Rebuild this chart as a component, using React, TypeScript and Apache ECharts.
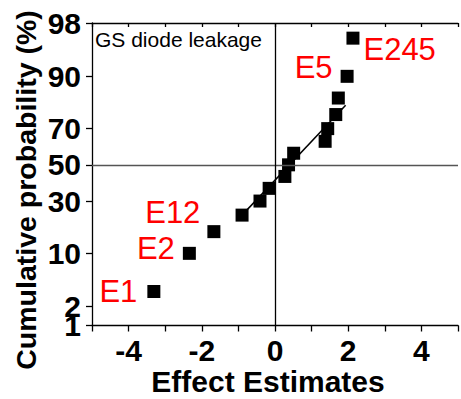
import React, { useEffect, useRef } from "react";
import * as echarts from "echarts";

// Effect estimates (x) and their cumulative probabilities (%)
const effectNames = ["E1", "E2", "E12", "", "", "", "", "", "", "", "", "", "", "E5", "E245"];
const effectValues = [-3.31, -2.34, -1.67, -0.9, -0.41, -0.16, 0.27, 0.37, 0.51, 1.37, 1.44, 1.66, 1.73, 1.97, 2.13];
const cumulativePct = [3.33, 10, 16.67, 23.33, 30, 36.67, 43.33, 50, 56.67, 63.33, 70, 76.67, 83.33, 90, 96.67];

// Fitted reference line end points
const fitX = [-0.9, 1.93];
const fitPct = [23.33, 80.6];

// Probability-axis tick labels (%)
const probTicks = [1, 2, 10, 30, 50, 70, 90, 98];
const xTicks = [-4, -2, 0, 2, 4];

const FONT = "'Liberation Sans', Arial, sans-serif";

// Label placement (style, not data)
const labelPlacement: Record<string, { position: string; offset: number[] }> = {
  E1: { position: "left", offset: [-2, 0] },
  E2: { position: "left", offset: [0, -5] },
  E12: { position: "left", offset: [1, -19] },
  E5: { position: "left", offset: [0, -9] },
  E245: { position: "right", offset: [-4, 11] },
};

function probit(p: number): number {
  const a = [-3.969683028665376e1, 2.209460984245205e2, -2.759285104469687e2, 1.38357751867269e2, -3.066479806614716e1, 2.506628277459239];
  const b = [-5.447609879822406e1, 1.615858368580409e2, -1.556989798598866e2, 6.680131188771972e1, -1.328068155288572e1];
  const c = [-7.784894002430293e-3, -3.223964580411365e-1, -2.400758277161838, -2.549732539343734, 4.374664141464968, 2.938163982698783];
  const d = [7.784695709041462e-3, 3.224671290700398e-1, 2.445134137142996, 3.754408661907416];
  const plow = 0.02425;
  const phigh = 1 - plow;
  if (p < plow) {
    const q = Math.sqrt(-2 * Math.log(p));
    return (((((c[0] * q + c[1]) * q + c[2]) * q + c[3]) * q + c[4]) * q + c[5]) / ((((d[0] * q + d[1]) * q + d[2]) * q + d[3]) * q + 1);
  }
  if (p <= phigh) {
    const q = p - 0.5;
    const r = q * q;
    return ((((((a[0] * r + a[1]) * r + a[2]) * r + a[3]) * r + a[4]) * r + a[5]) * q) / (((((b[0] * r + b[1]) * r + b[2]) * r + b[3]) * r + b[4]) * r + 1);
  }
  const q = Math.sqrt(-2 * Math.log(1 - p));
  return -(((((c[0] * q + c[1]) * q + c[2]) * q + c[3]) * q + c[4]) * q + c[5]) / ((((d[0] * q + d[1]) * q + d[2]) * q + d[3]) * q + 1);
}

const z = (pct: number) => probit(pct / 100);

export default function App() {
  const ref = useRef<HTMLDivElement>(null);
  useEffect(() => {
    document.body.style.margin = "0";
    if (!ref.current) return;
    const chart = echarts.init(ref.current, null, { renderer: "svg" });
    const tickZ = probTicks.map(z);
    // "2" sits right on top of "1"; draw it from a twin axis so ECharts does not drop it
    const secondTickZ = [tickZ[1]];
    const mainLabelZ = tickZ.filter((_, i) => i !== 1);

    const labelFormatter = (v: number) => {
      const idx = tickZ.findIndex((t) => Math.abs(t - v) < 1e-6);
      return idx >= 0 ? String(probTicks[idx]) : "";
    };

    const scatterData = effectValues.map((x, i) => {
      const name = effectNames[i];
      const item: any = { value: [x, z(cumulativePct[i])] };
      if (name) {
        const pl = labelPlacement[name];
        item.label = {
          show: true,
          formatter: name,
          position: pl.position,
          offset: pl.offset,
          distance: 8,
          color: "#ff0000",
          opacity: 1,
          fontSize: 31,
          fontFamily: FONT,
        };
      }
      return item;
    });

    const fitData = fitX.map((x, i) => [x, z(fitPct[i])]);

    const axisLineStyle = { color: "#000", width: 1.3 };
    const yLabelStyle = {
      margin: 11,
      fontSize: 30,
      fontWeight: "bold",
      fontFamily: FONT,
      color: "#000",
      showMinLabel: true,
      showMaxLabel: true,
      hideOverlap: false,
      formatter: labelFormatter,
    };
    const yMin = z(probTicks[0]);
    const yMax = z(probTicks[probTicks.length - 1]);

    chart.setOption({
      animation: false,
      grid: { left: 92, top: 23, width: 375, height: 302.5, containLabel: false },
      xAxis: [
        {
          type: "value",
          position: "bottom",
          min: -5,
          max: 5,
          interval: 1,
          splitLine: { show: false },
          axisLine: { show: true, onZero: false, lineStyle: axisLineStyle },
          axisTick: { show: true, inside: false, length: 6, lineStyle: axisLineStyle },
          axisLabel: {
            margin: 10,
            fontSize: 30,
            fontWeight: "bold",
            fontFamily: FONT,
            color: "#000",
            formatter: (v: number) => (xTicks.includes(v) ? String(v) : ""),
          },
        },
        {
          type: "value",
          position: "top",
          min: -5,
          max: 5,
          interval: 1,
          splitLine: { show: false },
          axisLine: { show: true, onZero: false, lineStyle: axisLineStyle },
          axisTick: { show: true, inside: true, length: 4, lineStyle: axisLineStyle },
          axisLabel: { show: false },
        },
      ],
      yAxis: [
        {
          type: "value",
          position: "left",
          min: yMin,
          max: yMax,
          splitLine: { show: false },
          axisLine: { show: true, onZero: false, lineStyle: axisLineStyle },
          axisTick: { show: true, inside: false, length: 6, lineStyle: axisLineStyle, customValues: tickZ },
          axisLabel: { ...yLabelStyle, customValues: mainLabelZ },
        },
        {
          type: "value",
          position: "left",
          offset: 0,
          min: yMin,
          max: yMax,
          splitLine: { show: false },
          axisLine: { show: false },
          axisTick: { show: false },
          axisLabel: { ...yLabelStyle, customValues: secondTickZ },
        },
      ],
      graphic: [
        {
          type: "text",
          left: 95,
          top: 29,
          style: { text: "GS diode leakage", fontSize: 21, fontFamily: FONT, fill: "#000" },
        },
        {
          type: "text",
          x: 268,
          y: 381,
          style: {
            text: "Effect Estimates",
            fontSize: 30,
            fontWeight: "bold",
            fontFamily: FONT,
            fill: "#000",
            align: "center",
            verticalAlign: "middle",
          },
        },
        {
          type: "text",
          x: 26,
          y: 190,
          rotation: Math.PI / 2,
          style: {
            text: "Cumulative probability (%)",
            fontSize: 28.5,
            fontWeight: "bold",
            fontFamily: FONT,
            fill: "#000",
            align: "center",
            verticalAlign: "middle",
          },
        },
      ],
      series: [
        {
          type: "line",
          data: fitData,
          symbol: "none",
          lineStyle: { color: "#000", width: 1.5 },
          markLine: {
            silent: true,
            symbol: "none",
            label: { show: false },
            data: [
              { yAxis: 0, lineStyle: { color: "#555", width: 1.3, type: "solid" } },
              { xAxis: 0, lineStyle: { color: "#000", width: 1.3, type: "solid" } },
            ],
          },
          z: 2,
        },
        {
          type: "scatter",
          data: scatterData,
          symbol: "rect",
          symbolSize: 13,
          itemStyle: { color: "#000", opacity: 1 },
          label: { show: false },
          z: 3,
        },
      ],
    });
    return () => chart.dispose();
  }, []);
  return <div ref={ref} style={{ width: 461, height: 399 }} />;
}
